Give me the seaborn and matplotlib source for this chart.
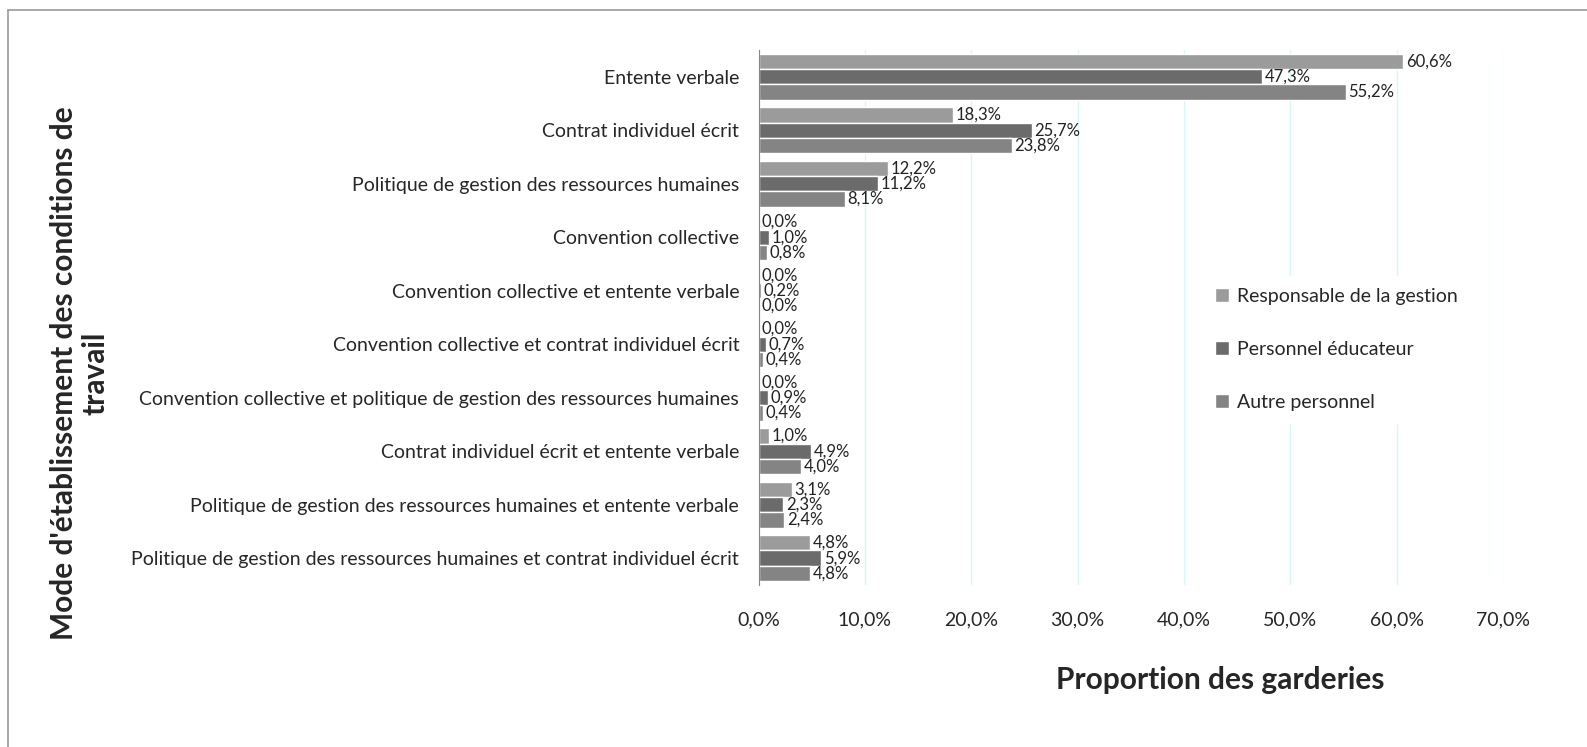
import pandas as pd
import seaborn as sns
import matplotlib.pyplot as plt
from matplotlib.lines import Line2D

# Values (%)
categories = [
    "Entente verbale",
    "Contrat individuel écrit",
    "Politique de gestion des ressources humaines",
    "Convention collective",
    "Convention collective et entente verbale",
    "Convention collective et contrat individuel écrit",
    "Convention collective et politique de gestion des ressources humaines",
    "Contrat individuel écrit et entente verbale",
    "Politique de gestion des ressources humaines et entente verbale",
    "Politique de gestion des ressources humaines et contrat individuel écrit",
]
series = ["Responsable de la gestion", "Personnel éducateur", "Autre personnel"]
responsable = [60.6, 18.3, 12.2, 0.0, 0.0, 0.0, 0.0, 1.0, 3.1, 4.8]
educateur = [47.3, 25.7, 11.2, 1.0, 0.2, 0.7, 0.9, 4.9, 2.3, 5.9]
autre = [55.2, 23.8, 8.1, 0.8, 0.0, 0.4, 0.4, 4.0, 2.4, 4.8]
xticks = [0, 10, 20, 30, 40, 50, 60, 70]

colors = ["#9b9b9b", "#6b6b6b", "#848484"]

rows = []
for s, vals in zip(series, [responsable, educateur, autre]):
    for c, v in zip(categories, vals):
        rows.append({"cat": c, "serie": s, "val": v})
df = pd.DataFrame(rows)

sns.set_style("white")
plt.rcParams['font.family'] = ['Lato', 'DejaVu Sans']

fig = plt.figure(figsize=(15.87, 7.47), dpi=100)
ax = fig.add_axes([0.478, 0.217, 0.469, 0.716])

sns.barplot(data=df, y="cat", x="val", hue="serie", order=categories,
            hue_order=series, palette=colors, orient="h", width=0.86,
            saturation=1, ax=ax)

for cont in ax.containers:
    labels = [f"{b.get_width():.1f}%".replace(".", ",") for b in cont]
    ax.bar_label(cont, labels=labels, padding=2, fontsize=12, color="#222222",
                 clip_on=False)

ax.set_xlim(0, 70)
ax.set_xticks(xticks)
ax.set_xticklabels([f"{t:.1f}%".replace(".", ",") for t in xticks], fontsize=14)
ax.tick_params(axis="x", pad=19, length=0)
ax.tick_params(axis="y", labelsize=14, length=0, pad=14)
ax.xaxis.grid(True, color="#d8f6f6", linewidth=1)
ax.set_axisbelow(True)
for sp in ["top", "right", "bottom"]:
    ax.spines[sp].set_visible(False)
ax.spines["left"].set_color("#888888")

ax.set_xlabel("Proportion des garderies", fontsize=21.5, fontweight="bold")
ax.xaxis.set_label_coords(0.62, -0.152)
ax.set_ylabel("")
fig.text(0.05, 0.50, "Mode d'établissement des conditions de\ntravail",
         rotation=90, ha="center", va="center", fontsize=21.5,
         fontweight="bold", linespacing=1.15)

leg = ax.legend(loc="center left", bbox_to_anchor=(0.585, 0.44), frameon=True,
                edgecolor="white", facecolor="white", framealpha=1,
                fontsize=14, handlelength=0.7, handleheight=0.7,
                labelspacing=1.85, handletextpad=0.4, borderpad=0.6)

# outer frame (top and left visible)
fig.add_artist(Line2D([0.005, 1.0], [0.987, 0.987], color="#999999", lw=1.2,
                      transform=fig.transFigure))
fig.add_artist(Line2D([0.005, 0.005], [0.0, 0.987], color="#999999", lw=1.2,
                      transform=fig.transFigure))

plt.savefig("out.png", dpi=100)
